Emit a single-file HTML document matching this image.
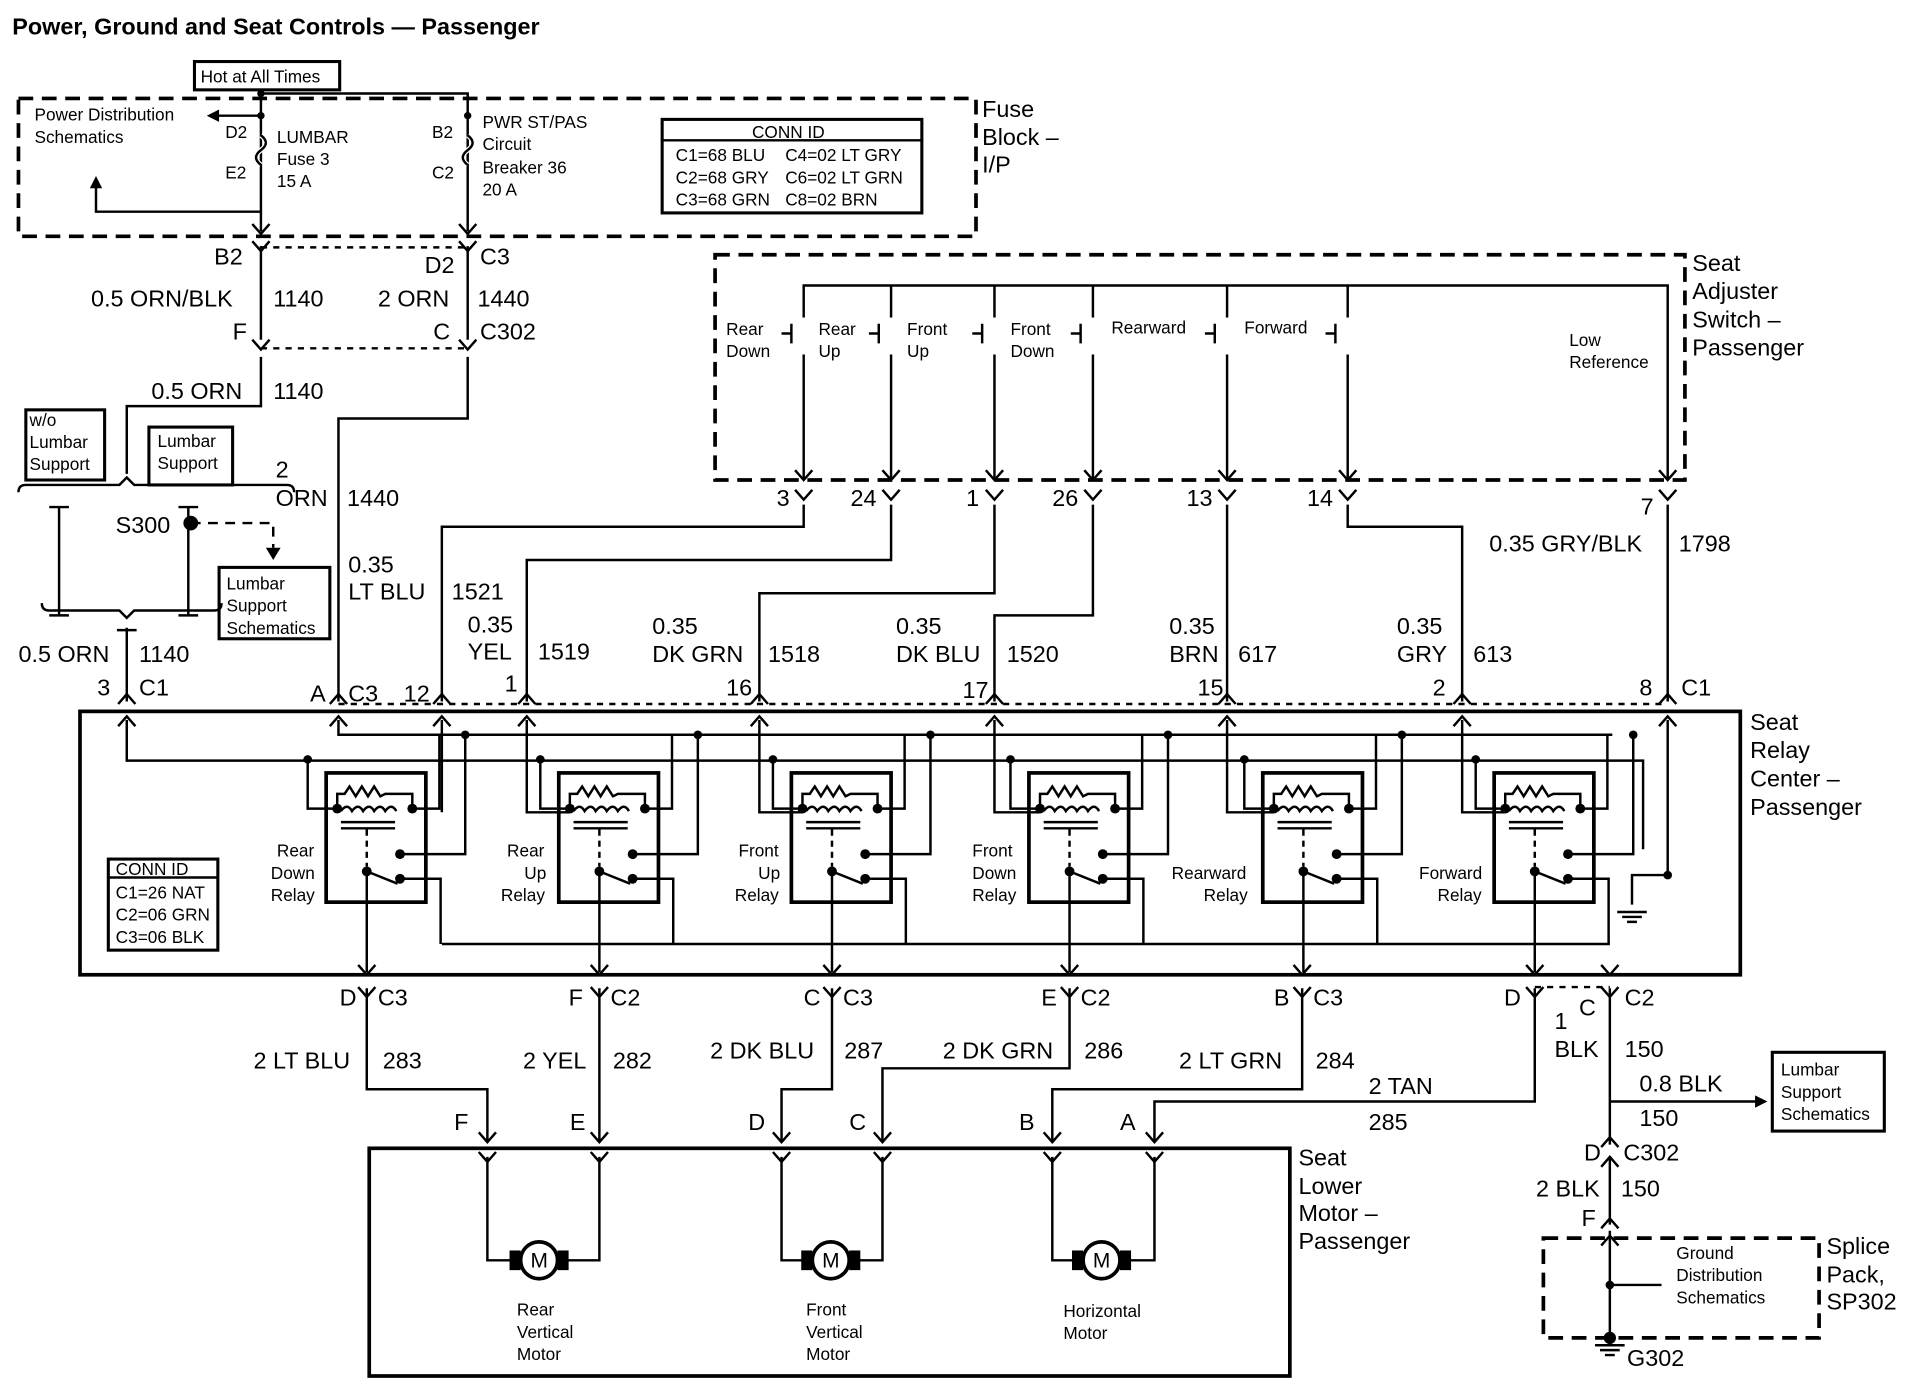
<!DOCTYPE html>
<html><head><meta charset="utf-8"><style>
html,body{margin:0;padding:0;background:#fff}
svg{display:block}
text{font-family:"Liberation Sans",Arial,sans-serif;fill:#000}
.b{font-size:19px}
.s{font-size:14px}
</style></head><body>
<svg width="1920" height="1392" viewBox="0 0 1560 1131" preserveAspectRatio="none" xmlns="http://www.w3.org/2000/svg">
<g fill="none" stroke="#000" stroke-width="2">
<rect x="15" y="80" width="778" height="112" stroke-width="3" stroke-dasharray="12,7"/>
<rect x="158" y="50" width="118" height="23" stroke-width="2.5"/>
<polyline points="212,73 212,188"/>
<polyline points="212,76 380,76 380,188"/>
<polyline points="212,94 172,94"/>
<polyline points="212,172 78,172 78,148"/>
<path d="M212,110 q8,6 0,12 q-8,6 0,12" stroke="#fff" stroke-width="4"/>
<path d="M212,110 q8,6 0,12 q-8,6 0,12"/>
<path d="M380,110 q8,6 0,12 q-8,6 0,12" stroke="#fff" stroke-width="4"/>
<path d="M380,110 q8,6 0,12 q-8,6 0,12"/>
<rect x="538" y="97" width="211" height="76" stroke-width="2.5"/>
<line x1="538" y1="114" x2="749" y2="114"/>
<polyline points="212,200 212,276"/>
<polyline points="380,200 380,276"/>
<line x1="212" y1="201" x2="380" y2="201" stroke-dasharray="5,5"/>
<line x1="212" y1="283" x2="380" y2="283" stroke-dasharray="5,5"/>
<polyline points="212,290 212,330 103,330 103,385"/>
<polyline points="380,290 380,340 275,340 275,570"/>
<rect x="21" y="333" width="64" height="57" stroke-width="2.5"/>
<rect x="121" y="347" width="68" height="47" stroke-width="2.5"/>
<rect x="178" y="461" width="90" height="58" stroke-width="2.5"/>
<path d="M15,400 q0,-6 6,-6 h76 l6,-6 l6,6 h124 q6,0 6,6"/>
<path d="M40,412 h8 v88 h8 M56,412 h-8 M40,500 h16"/>
<path d="M145,412 h8 v88 h8 M161,412 h-8 M145,500 h16"/>
<path d="M34,490 q0,6 6,6 h57 l6,6 l6,-6 h65 q6,0 6,-6"/>
<line x1="103" y1="510" x2="103" y2="570"/>
<path d="M95,512 h8 M103,512 h8"/>
<polyline points="155,425 222,425 222,445" stroke-dasharray="8,6"/>
<rect x="581" y="207" width="788" height="183" stroke-width="3" stroke-dasharray="12,7"/>
<polyline points="653,390 653,232 1355,232 1355,390"/>
<line x1="724" y1="232" x2="724" y2="258"/><line x1="724" y1="288" x2="724" y2="390"/>
<line x1="808" y1="232" x2="808" y2="258"/><line x1="808" y1="288" x2="808" y2="390"/>
<line x1="888" y1="232" x2="888" y2="258"/><line x1="888" y1="288" x2="888" y2="390"/>
<line x1="997" y1="232" x2="997" y2="258"/><line x1="997" y1="288" x2="997" y2="390"/>
<line x1="1095" y1="232" x2="1095" y2="258"/><line x1="1095" y1="288" x2="1095" y2="390"/>
<line x1="653" y1="258" x2="653" y2="288" stroke="#fff" stroke-width="4"/>
<path d="M643,263 v16 M635,271 h8 M714,263 v16 M706,271 h8 M798,263 v16 M790,271 h8 M878,263 v16 M870,271 h8 M987,263 v16 M979,271 h8 M1085,263 v16 M1077,271 h8"/>
<polyline points="653,410 653,428 359,428 359,570"/>
<polyline points="724,410 724,455 428,455 428,570"/>
<polyline points="808,410 808,482 617,482 617,570"/>
<polyline points="888,410 888,500 808,500 808,570"/>
<polyline points="997,410 997,570"/>
<polyline points="1095,410 1095,428 1188,428 1188,570"/>
<polyline points="1355,410 1355,570"/>
<line x1="275" y1="572" x2="1355" y2="572" stroke-dasharray="5,5"/>
<rect x="65" y="578" width="1349" height="214" stroke-width="3"/>
<rect x="88" y="698" width="89" height="74" stroke-width="2.5"/>
<line x1="88" y1="713" x2="177" y2="713"/>
<polyline points="103,585 103,618 1335,618 1335,690"/>
<polyline points="275,585 275,597 1310,597"/>
<polyline points="359,585 359,660"/>
<polyline points="428,585 428,660 463,660"/>
<polyline points="617,585 617,660 652,660"/>
<polyline points="808,585 808,660 845,660"/>
<polyline points="997,585 997,660 1035,660"/>
<polyline points="1188,585 1188,660 1223,660"/>
<polyline points="1355,585 1355,711 1326,711 1326,735"/>
<polyline points="359,767 1308,767"/>
<rect x="300" y="933" width="748" height="185" stroke-width="3"/>
<polyline points="298,803 298,885 396,885 396,928"/>
<polyline points="487,803 487,928"/>
<polyline points="676,803 676,885 635,885 635,928"/>
<polyline points="869,803 869,868 717,868 717,928"/>
<polyline points="1058,803 1058,885 855,885 855,928"/>
<polyline points="1247,803 1247,895 938,895 938,928"/>
<line x1="1247" y1="802" x2="1308" y2="802" stroke-dasharray="5,5"/>
<polyline points="1308,803 1308,930"/>
<polyline points="1308,895 1430,895"/>
<polyline points="1308,940 1308,995"/>
<polyline points="396,940 396,1024 420,1024"/><polyline points="487,940 487,1024 456,1024"/>
<polyline points="635,940 635,1024 657,1024"/><polyline points="717,940 717,1024 693,1024"/>
<polyline points="855,940 855,1024 877,1024"/><polyline points="938,940 938,1024 913,1024"/>
<rect x="1440" y="855" width="91" height="64" stroke-width="2.5"/>
<rect x="1254" y="1006" width="224" height="81" stroke-width="3" stroke-dasharray="12,7"/>
<polyline points="1308,1000 1308,1087"/>
<polyline points="1308,1044 1350,1044"/>
<path d="M1296,1093 h24 M1300,1097 h16 M1304,1101 h8"/>
<path d="M1314,741 h24 M1318,745 h16 M1322,749 h8"/>
</g>
<defs>
<g id="rl" fill="none" stroke="#000" stroke-width="2">
<rect x="0" y="0" width="81" height="105" stroke-width="3"/>
<polyline points="9,29 9,17 15,17 19,11 24,19 29,11 34,19 39,11 44,19 48,17 70,17 70,29"/>
<path d="M12,31 q5,-7 9,0 q5,-7 9,0 q5,-7 9,0 q5,-7 9,0 q5,-7 9,0"/>
<line x1="12" y1="40" x2="56" y2="40"/><line x1="12" y1="45" x2="56" y2="45"/>
<line x1="33" y1="46" x2="33" y2="76" stroke-dasharray="5,4"/>
<line x1="33" y1="80" x2="58" y2="90"/>
<polyline points="9,29 -15,29 -15,-11"/>
<polyline points="70,29 92,29 92,-31"/>
<polyline points="60,66 113,66 113,-31"/>
<polyline points="60,86 93,86 93,139"/>
<polyline points="33,80 33,162"/>
<g fill="#000" stroke="none"><circle cx="9" cy="29" r="4"/><circle cx="70" cy="29" r="4"/><circle cx="60" cy="66" r="4"/><circle cx="33" cy="80" r="4"/><circle cx="60" cy="86" r="4"/><circle cx="-15" cy="-11" r="3.5"/><circle cx="113" cy="-31" r="3.5"/></g>
</g>
<g id="m"><circle r="15" fill="#fff" stroke="#000" stroke-width="3"/><rect x="-24" y="-8" width="9" height="16" fill="#000"/><rect x="15" y="-8" width="9" height="16" fill="#000"/><text x="-7" y="6" style="font-size:17px">M</text></g>
</defs>
<use href="#rl" x="265" y="628"/><use href="#rl" x="454" y="628"/><use href="#rl" x="643" y="628"/>
<use href="#rl" x="836" y="628"/><use href="#rl" x="1026" y="628"/><use href="#rl" x="1214" y="628"/>
<use href="#m" x="438" y="1024"/><use href="#m" x="675" y="1024"/><use href="#m" x="895" y="1024"/>
<g fill="#000">
<circle cx="212" cy="94" r="3"/><circle cx="380" cy="94" r="3"/><circle cx="212" cy="76" r="3"/>
<circle cx="155" cy="425" r="6"/><circle cx="1355" cy="711" r="3.5"/><circle cx="1308" cy="1044" r="3.5"/>
<circle cx="1308" cy="1087" r="5"/>
<path d="M168,94 l10,-5 v10z M78,143 l-5,10 h10z M222,455 l-6,-10 h12z M1436,895 l-10,-5 v10z"/>
</g>
<g fill="none" stroke="#000" stroke-width="2">
<path d="M205,182 l7,8 l7,-8 M373,182 l7,8 l7,-8 M205,196 l7,8 l7,-8 M373,196 l7,8 l7,-8"/>
<path d="M205,276 l7,8 l7,-8 M373,276 l7,8 l7,-8"/>
<path d="M646,382 l7,8 l7,-8 M717,382 l7,8 l7,-8 M801,382 l7,8 l7,-8 M881,382 l7,8 l7,-8 M990,382 l7,8 l7,-8 M1088,382 l7,8 l7,-8 M1348,382 l7,8 l7,-8"/>
<path d="M646,398 l7,8 l7,-8 M717,398 l7,8 l7,-8 M801,398 l7,8 l7,-8 M881,398 l7,8 l7,-8 M990,398 l7,8 l7,-8 M1088,398 l7,8 l7,-8 M1348,398 l7,8 l7,-8"/>
<path d="M96,572 l7,-8 l7,8 M268,572 l7,-8 l7,8 M352,572 l7,-8 l7,8 M421,572 l7,-8 l7,8 M610,572 l7,-8 l7,8 M801,572 l7,-8 l7,8 M990,572 l7,-8 l7,8 M1181,572 l7,-8 l7,8 M1348,572 l7,-8 l7,8"/>
<path d="M96,590 l7,-8 l7,8 M268,590 l7,-8 l7,8 M352,590 l7,-8 l7,8 M421,590 l7,-8 l7,8 M610,590 l7,-8 l7,8 M801,590 l7,-8 l7,8 M990,590 l7,-8 l7,8 M1181,590 l7,-8 l7,8 M1348,590 l7,-8 l7,8"/>
<path d="M291,784 l7,8 l7,-8 M480,784 l7,8 l7,-8 M669,784 l7,8 l7,-8 M862,784 l7,8 l7,-8 M1051,784 l7,8 l7,-8 M1240,784 l7,8 l7,-8 M1301,784 l7,8 l7,-8"/>
<path d="M291,802 l7,8 l7,-8 M480,802 l7,8 l7,-8 M669,802 l7,8 l7,-8 M862,802 l7,8 l7,-8 M1051,802 l7,8 l7,-8 M1240,802 l7,8 l7,-8 M1301,802 l7,8 l7,-8"/>
<path d="M389,920 l7,8 l7,-8 M480,920 l7,8 l7,-8 M628,920 l7,8 l7,-8 M710,920 l7,8 l7,-8 M848,920 l7,8 l7,-8 M931,920 l7,8 l7,-8"/>
<path d="M389,936 l7,8 l7,-8 M480,936 l7,8 l7,-8 M628,936 l7,8 l7,-8 M710,936 l7,8 l7,-8 M848,936 l7,8 l7,-8 M931,936 l7,8 l7,-8"/>
<path d="M1301,932 l7,-8 l7,8 M1301,948 l7,-8 l7,8 M1301,998 l7,-8 l7,8 M1301,1012 l7,-8 l7,8"/>
</g>
<text x="10" y="28" style="font-size:19px;font-weight:bold">Power, Ground and Seat Controls — Passenger</text>
<g class="s">
<text x="163" y="67" class="s">Hot at All Times</text>
<text x="28" y="98" class="s">Power Distribution</text><text x="28" y="116" class="s">Schematics</text>
<text x="183" y="112" class="s">D2</text><text x="183" y="145" class="s">E2</text>
<text x="225" y="116" class="s">LUMBAR</text><text x="225" y="134" class="s">Fuse 3</text><text x="225" y="152" class="s">15 A</text>
<text x="351" y="112" class="s">B2</text><text x="351" y="145" class="s">C2</text>
<text x="392" y="104" class="s">PWR ST/PAS</text><text x="392" y="122" class="s">Circuit</text><text x="392" y="141" class="s">Breaker 36</text><text x="392" y="159" class="s">20 A</text>
<text x="611" y="112" class="s">CONN ID</text>
<text x="549" y="131" class="s">C1=68 BLU</text><text x="638" y="131" class="s">C4=02 LT GRY</text>
<text x="549" y="149" class="s">C2=68 GRY</text><text x="638" y="149" class="s">C6=02 LT GRN</text>
<text x="549" y="167" class="s">C3=68 GRN</text><text x="638" y="167" class="s">C8=02 BRN</text>
<text x="24" y="346" class="s">w/o</text><text x="24" y="364" class="s">Lumbar</text><text x="24" y="382" class="s">Support</text>
<text x="128" y="363" class="s">Lumbar</text><text x="128" y="381" class="s">Support</text>
<text x="184" y="479" class="s">Lumbar</text><text x="184" y="497" class="s">Support</text><text x="184" y="515" class="s">Schematics</text>
<text x="590" y="272" class="s">Rear</text><text x="590" y="290" class="s">Down</text>
<text x="665" y="272" class="s">Rear</text><text x="665" y="290" class="s">Up</text>
<text x="737" y="272" class="s">Front</text><text x="737" y="290" class="s">Up</text>
<text x="821" y="272" class="s">Front</text><text x="821" y="290" class="s">Down</text>
<text x="903" y="271" class="s">Rearward</text><text x="1011" y="271" class="s">Forward</text>
<text x="1275" y="281" class="s">Low</text><text x="1275" y="299" class="s">Reference</text>
<text x="94" y="711" class="s">CONN ID</text>
<text x="94" y="730" class="s">C1=26 NAT</text><text x="94" y="748" class="s">C2=06 GRN</text><text x="94" y="766" class="s">C3=06 BLK</text>
<text x="225" y="696" class="s">Rear</text><text x="220" y="714" class="s">Down</text><text x="220" y="732" class="s">Relay</text>
<text x="412" y="696" class="s">Rear</text><text x="426" y="714" class="s">Up</text><text x="407" y="732" class="s">Relay</text>
<text x="600" y="696" class="s">Front</text><text x="616" y="714" class="s">Up</text><text x="597" y="732" class="s">Relay</text>
<text x="790" y="696" class="s">Front</text><text x="790" y="714" class="s">Down</text><text x="790" y="732" class="s">Relay</text>
<text x="952" y="714" class="s">Rearward</text><text x="978" y="732" class="s">Relay</text>
<text x="1153" y="714" class="s">Forward</text><text x="1168" y="732" class="s">Relay</text>
<text x="420" y="1069" class="s">Rear</text><text x="420" y="1087" class="s">Vertical</text><text x="420" y="1105" class="s">Motor</text>
<text x="655" y="1069" class="s">Front</text><text x="655" y="1087" class="s">Vertical</text><text x="655" y="1105" class="s">Motor</text>
<text x="864" y="1070" class="s">Horizontal</text><text x="864" y="1088" class="s">Motor</text>
<text x="1447" y="874" class="s">Lumbar</text><text x="1447" y="892" class="s">Support</text><text x="1447" y="910" class="s">Schematics</text>
<text x="1362" y="1023" class="s">Ground</text><text x="1362" y="1041" class="s">Distribution</text><text x="1362" y="1059" class="s">Schematics</text>
</g>
<g class="b">
<text x="798" y="95" class="b">Fuse</text><text x="798" y="118" class="b">Block –</text><text x="798" y="140" class="b">I/P</text>
<text x="174" y="215" class="b">B2</text><text x="345" y="222" class="b">D2</text><text x="390" y="215" class="b">C3</text>
<text x="74" y="249" class="b">0.5 ORN/BLK</text><text x="222" y="249" class="b">1140</text>
<text x="307" y="249" class="b">2  ORN</text><text x="388" y="249" class="b">1440</text>
<text x="189" y="276" class="b">F</text><text x="352" y="276" class="b">C</text><text x="390" y="276" class="b">C302</text>
<text x="123" y="324" class="b">0.5 ORN</text><text x="222" y="324" class="b">1140</text>
<text x="224" y="388" class="b">2</text><text x="224" y="411" class="b">ORN</text><text x="282" y="411" class="b">1440</text>
<text x="94" y="433" class="b">S300</text>
<text x="283" y="465" class="b">0.35</text><text x="283" y="487" class="b">LT BLU</text><text x="367" y="487" class="b">1521</text>
<text x="380" y="514" class="b">0.35</text><text x="380" y="536" class="b">YEL</text><text x="437" y="536" class="b">1519</text>
<text x="530" y="515" class="b">0.35</text><text x="530" y="538" class="b">DK GRN</text><text x="624" y="538" class="b">1518</text>
<text x="728" y="515" class="b">0.35</text><text x="728" y="538" class="b">DK BLU</text><text x="818" y="538" class="b">1520</text>
<text x="950" y="515" class="b">0.35</text><text x="950" y="538" class="b">BRN</text><text x="1006" y="538" class="b">617</text>
<text x="1135" y="515" class="b">0.35</text><text x="1135" y="538" class="b">GRY</text><text x="1197" y="538" class="b">613</text>
<text x="1210" y="448" class="b">0.35 GRY/BLK</text><text x="1364" y="448" class="b">1798</text>
<text x="631" y="411" class="b">3</text><text x="691" y="411" class="b">24</text><text x="785" y="411" class="b">1</text><text x="855" y="411" class="b">26</text><text x="964" y="411" class="b">13</text><text x="1062" y="411" class="b">14</text><text x="1333" y="418" class="b">7</text>
<text x="15" y="538" class="b">0.5 ORN</text><text x="113" y="538" class="b">1140</text>
<text x="79" y="565" class="b">3</text><text x="113" y="565" class="b">C1</text>
<text x="252" y="570" class="b">A</text><text x="283" y="570" class="b">C3</text><text x="328" y="570" class="b">12</text>
<text x="410" y="562" class="b">1</text><text x="590" y="565" class="b">16</text><text x="782" y="567" class="b">17</text><text x="973" y="565" class="b">15</text><text x="1164" y="565" class="b">2</text><text x="1332" y="565" class="b">8</text><text x="1366" y="565" class="b">C1</text>
<text x="1422" y="593" class="b">Seat</text><text x="1422" y="616" class="b">Relay</text><text x="1422" y="639" class="b">Center –</text><text x="1422" y="662" class="b">Passenger</text>
<text x="1375" y="220" class="b">Seat</text><text x="1375" y="243" class="b">Adjuster</text><text x="1375" y="266" class="b">Switch –</text><text x="1375" y="289" class="b">Passenger</text>
<text x="276" y="817" class="b">D</text><text x="307" y="817" class="b">C3</text>
<text x="462" y="817" class="b">F</text><text x="496" y="817" class="b">C2</text>
<text x="653" y="817" class="b">C</text><text x="685" y="817" class="b">C3</text>
<text x="846" y="817" class="b">E</text><text x="878" y="817" class="b">C2</text>
<text x="1035" y="817" class="b">B</text><text x="1067" y="817" class="b">C3</text>
<text x="1222" y="817" class="b">D</text><text x="1283" y="825" class="b">C</text><text x="1320" y="817" class="b">C2</text>
<text x="206" y="868" class="b">2 LT BLU</text><text x="311" y="868" class="b">283</text>
<text x="425" y="868" class="b">2 YEL</text><text x="498" y="868" class="b">282</text>
<text x="577" y="860" class="b">2 DK BLU</text><text x="686" y="860" class="b">287</text>
<text x="766" y="860" class="b">2 DK GRN</text><text x="881" y="860" class="b">286</text>
<text x="958" y="868" class="b">2 LT GRN</text><text x="1069" y="868" class="b">284</text>
<text x="1112" y="889" class="b">2 TAN</text><text x="1112" y="918" class="b">285</text>
<text x="1263" y="836" class="b">1</text><text x="1263" y="859" class="b">BLK</text><text x="1320" y="859" class="b">150</text>
<text x="1332" y="887" class="b">0.8 BLK</text><text x="1332" y="915" class="b">150</text>
<text x="1287" y="943" class="b">D</text><text x="1319" y="943" class="b">C302</text>
<text x="1248" y="972" class="b">2 BLK</text><text x="1317" y="972" class="b">150</text>
<text x="1285" y="996" class="b">F</text>
<text x="1322" y="1110" class="b">G302</text>
<text x="1484" y="1019" class="b">Splice</text><text x="1484" y="1042" class="b">Pack,</text><text x="1484" y="1064" class="b">SP302</text>
<text x="369" y="918" class="b">F</text><text x="463" y="918" class="b">E</text><text x="608" y="918" class="b">D</text><text x="690" y="918" class="b">C</text><text x="828" y="918" class="b">B</text><text x="910" y="918" class="b">A</text>
<text x="1055" y="947" class="b">Seat</text><text x="1055" y="970" class="b">Lower</text><text x="1055" y="992" class="b">Motor –</text><text x="1055" y="1015" class="b">Passenger</text>
</g>
</svg>
</body></html>
